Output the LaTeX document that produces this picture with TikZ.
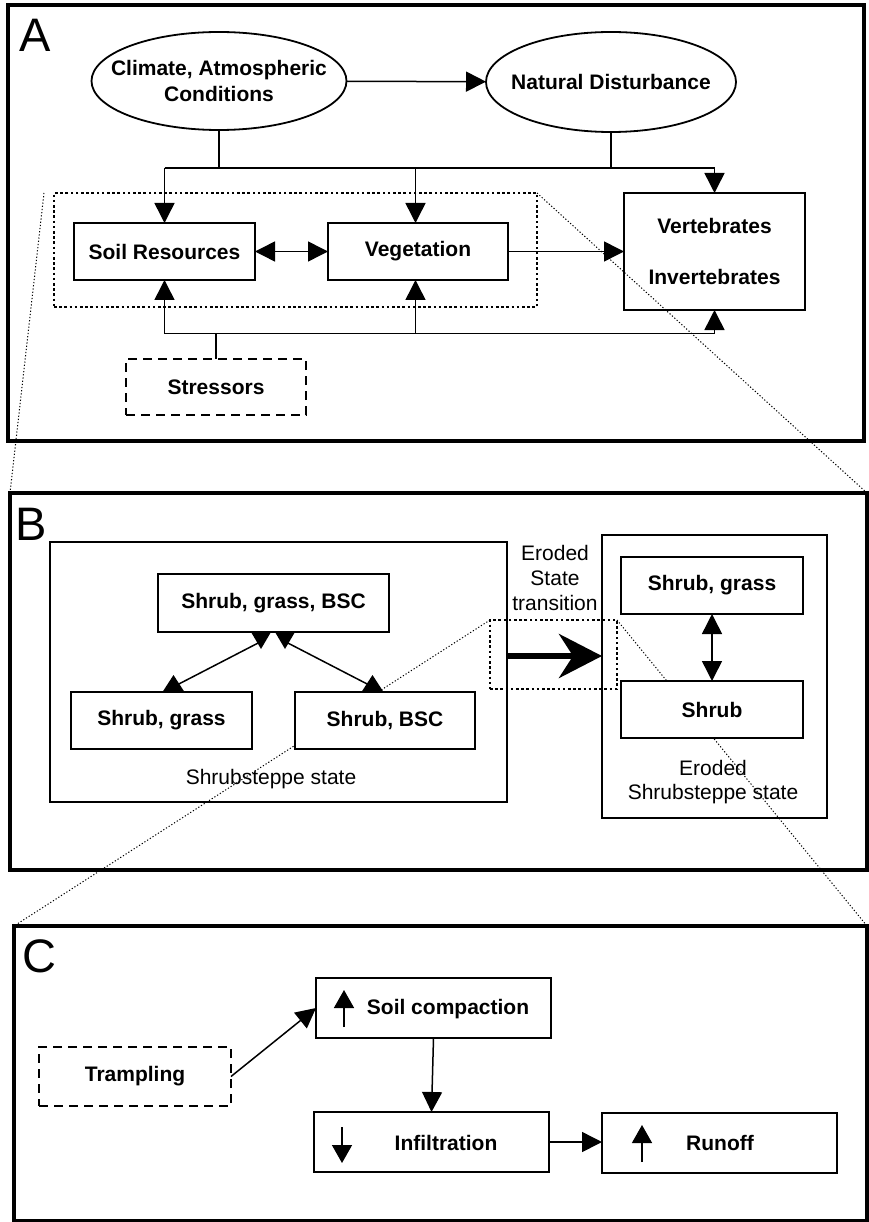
\documentclass[tikz,border=0pt]{standalone}
\usepackage{fontspec}
\setmainfont{Liberation Sans}
\usetikzlibrary{arrows.meta,shapes.geometric}
\pgfdeclarelayer{background}
\pgfsetlayers{background,main}
\begin{document}
\begin{tikzpicture}[x=1pt,y=-1pt,
  every node/.style={inner sep=0pt, outer sep=0pt, font=\fontsize{21}{25}\selectfont\bfseries},
  box/.style={draw, line width=1.9pt, fill=white},
  statebox/.style={draw, line width=2pt},
  panel/.style={draw, line width=3.5pt},
  ell/.style={draw, ellipse, line width=1.8pt},
  dashbox/.style={draw, line width=2pt, dash pattern=on 9pt off 6pt},
  dotbox/.style={draw, line width=2.4pt, dash pattern=on 2.6pt off 2.6pt},
  zoomline/.style={line width=1pt, dash pattern=on 1.2pt off 2pt},
  conn/.style={line width=1.5pt},
  arr/.style={conn, -{Triangle[length=20pt,width=20pt]}},
  darr/.style={conn, {Triangle[length=20pt,width=20pt]}-{Triangle[length=20pt,width=20pt]}},
  normaltext/.style={font=\fontsize{21}{25}\selectfont\mdseries, align=center},
  letter/.style={font=\fontsize{47}{50}\selectfont\mdseries, anchor=base west},
  bigarrow/.style={line width=6pt, -{Stealth[length=43pt,width=44pt,inset=14pt]}}
]
\useasboundingbox (0,0) rectangle (868,1222);

% ---------------- Panel A ----------------
\node[panel, minimum width=856pt, minimum height=436pt] (pA) at (436,223) {};
\node[letter] (lA) at (19,52) {A};
\node[ell, minimum width=255pt, minimum height=98pt,
  label={[align=center, font=\fontsize{21}{26}\selectfont\bfseries]center:{Climate, Atmospheric\\Conditions}}] (clim) at (219,81) {};
\node[ell, minimum width=250pt, minimum height=100pt,
  label={center:{Natural Disturbance}}] (nd) at (611,82) {};
\node[box, minimum width=181pt, minimum height=57pt] (soil) at (164.5,251.5) {Soil Resources};
\node[box, minimum width=180pt, minimum height=57pt] (veg) at (418,251.5) {Vegetation};
\node[box, minimum width=181pt, minimum height=117pt, align=center] (vert) at (714.5,251.5) {Vertebrates\\[26pt]Invertebrates};
\node[dotbox, minimum width=483pt, minimum height=114pt] (adot) at (295.5,250) {};
\node[dashbox, fill=white, minimum width=180pt, minimum height=56pt] (str) at (216,387) {Stressors};

\coordinate (by) at (0,168);
\coordinate (sy) at (0,333.5);
\coordinate (vx) at (415.5,0);
\draw[arr] (clim) -- (nd);
\draw[conn] (clim.south) -- (clim.south |- by);
\draw[conn] (nd.south) -- (nd.south |- by);
\draw[conn] (soil.north |- by) -- (vert.north |- by);
\draw[arr] (soil.north |- by) -- (soil.north);
\draw[arr] (vx |- by) -- (vx |- veg.north);
\draw[arr] (vert.north |- by) -- (vert.north);
\draw[darr] (soil) -- (veg);
\draw[arr] (veg) -- (vert);
\draw[conn] (soil.south |- sy) -- (vert.south |- sy);
\draw[arr] (soil.south |- sy) -- (soil.south);
\draw[arr] (vx |- sy) -- (vx |- veg.south);
\draw[arr] (vert.south |- sy) -- (vert.south);
\draw[conn] (str.north) -- (str.north |- sy);

% ---------------- Panel B ----------------
\node[panel, minimum width=857pt, minimum height=377pt] (pB) at (438.5,681.5) {};
\node[letter] (lB) at (15.5,540) {B};
\node[statebox, minimum width=457pt, minimum height=260pt] (ss) at (278.5,672) {};
\node[normaltext] (sstext) at (271,779) {Shrubsteppe state};
\node[box, minimum width=231pt, minimum height=58pt] (sgb) at (273.5,603) {Shrub, grass, BSC};
\node[box, minimum width=181pt, minimum height=57pt] (sg) at (161.5,720.5) {Shrub, grass};
\node[box, minimum width=180pt, minimum height=57pt] (sb) at (385,720.5) {Shrub, BSC};

\coordinate (a1) at (261,649);
\coordinate (a2) at (173.5,675);
\coordinate (a3) at (285,649);
\coordinate (a4) at (372.5,675);
\coordinate (l1) at (262,641);
\coordinate (l2) at (175,686);
\coordinate (l3) at (284,641);
\coordinate (l4) at (371,686);
\draw[conn] (l1) -- (l2);
\draw[conn] (l3) -- (l4);
\fill (a1) -- ++(-10,-17) -- ++(20,0) -- cycle;
\fill (a3) -- ++(-10,-17) -- ++(20,0) -- cycle;
\fill (a2) -- ++(-11,17) -- ++(22,0) -- cycle;
\fill (a4) -- ++(-11,17) -- ++(22,0) -- cycle;

\node[normaltext] (trtext) at (555,578) {Eroded\\State\\transition};
\node[statebox, minimum width=225pt, minimum height=283pt] (er) at (714.5,676.5) {};
\node[box, minimum width=182pt, minimum height=57pt] (esg) at (712,585.5) {Shrub, grass};
\node[box, minimum width=182pt, minimum height=57pt] (es) at (712,709.5) {Shrub};
\draw[darr] (esg) -- (es);
\node[normaltext, font=\fontsize{21}{24}\selectfont\mdseries] (ertext) at (713,782) {Eroded\\Shrubsteppe state};

\coordinate (ty) at (0,656);
\draw[bigarrow] (ss.east |- ty) -- (er.west |- ty);
\node[dotbox, minimum width=127pt, minimum height=69pt] (bdot) at (553.5,654.5) {};

% ---------------- Panel C ----------------
\node[panel, minimum width=853pt, minimum height=295pt] (pC) at (440.5,1073.5) {};
\node[letter] (lC) at (22.5,972) {C};
\node[box, minimum width=235pt, minimum height=60pt] (sc) at (433.5,1008) {};
\node (sctext) at (448,1009) {Soil compaction};
\node[dashbox, minimum width=192pt, minimum height=59pt] (tr) at (135,1076.5) {Trampling};
\node[box, minimum width=235pt, minimum height=60pt] (inf) at (431.5,1142) {};
\node (inftext) at (446,1143) {Infiltration};
\node[box, minimum width=235pt, minimum height=60pt] (ro) at (719.5,1143) {};
\node (rotext) at (720,1143) {Runoff};

\draw[arr] (tr.east) -- (sc.west);
\draw[arr] (sc.south) -- (inf.north);
\draw[arr] (inf.east) -- (ro.west |- inf.east);

\coordinate (u1a) at (344,1027);
\coordinate (u1b) at (344,990);
\coordinate (d1a) at (342,1127);
\coordinate (d1b) at (342,1163);
\coordinate (u2a) at (642,1162);
\coordinate (u2b) at (642,1125);
\draw[conn, -{Triangle[length=18pt,width=20pt]}] (u1a) -- (u1b);
\draw[conn, -{Triangle[length=18pt,width=20pt]}] (d1a) -- (d1b);
\draw[conn, -{Triangle[length=18pt,width=20pt]}] (u2a) -- (u2b);

% ---------------- zoom lines ----------------
\coordinate (zA) at (44,193);
\draw[zoomline] (zA) -- (pB.north west);
\draw[zoomline] (adot.north east) -- (pB.north east);
\begin{pgfonlayer}{background}
\draw[zoomline] (bdot.north west) -- (pC.north west);
\draw[zoomline] (bdot.north east) -- (pC.north east);
\end{pgfonlayer}
\end{tikzpicture}
\end{document}
